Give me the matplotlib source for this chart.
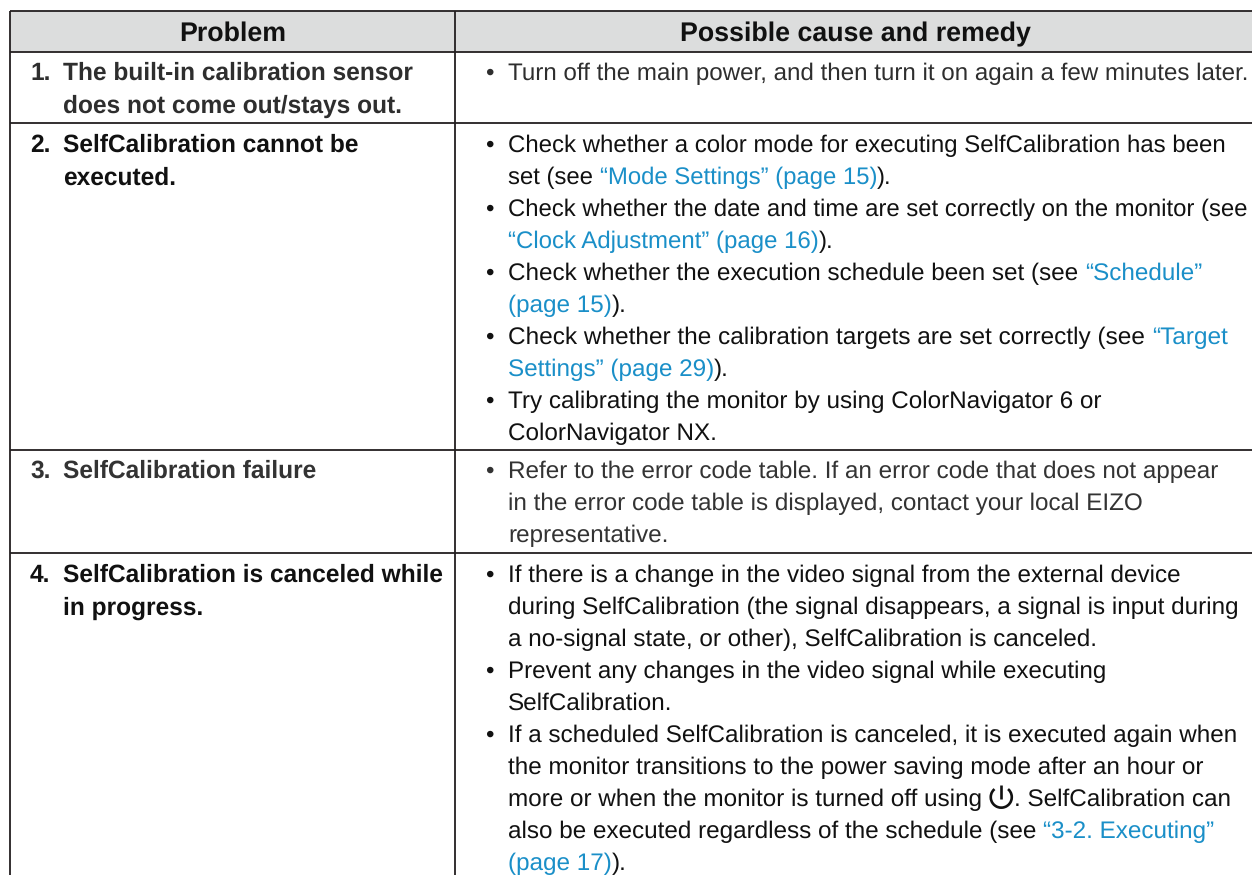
import matplotlib
matplotlib.use("Agg")
import matplotlib.pyplot as plt
from matplotlib.patches import Arc, Rectangle

W, H = 1252, 875
HEADERS = ["Problem", "Possible cause and remedy"]
PROBLEMS = [
    ["1.", "The built-in calibration sensor", "does not come out/stays out."],
    ["2.", "SelfCalibration cannot be", "executed."],
    ["3.", "SelfCalibration failure"],
    ["4.", "SelfCalibration is canceled while", "in progress."],
]
# "•" starts a bullet; "[...]" marks a link run; "@" marks the power icon.
REMEDY_1 = ["•Turn off the main power, and then turn it on again a few minutes later."]
REMEDY_2 = [
    "•Check whether a color mode for executing SelfCalibration has been",
    "set (see [“Mode Settings” (page 15)]).",
    "•Check whether the date and time are set correctly on the monitor (see",
    "[“Clock Adjustment” (page 16)]).",
    "•Check whether the execution schedule been set (see [“Schedule”]",
    "[(page 15)]).",
    "•Check whether the calibration targets are set correctly (see [“Target]",
    "[Settings” (page 29)]).",
    "•Try calibrating the monitor by using ColorNavigator 6 or",
    "ColorNavigator NX.",
]
REMEDY_3 = [
    "•Refer to the error code table. If an error code that does not appear",
    "in the error code table is displayed, contact your local EIZO",
    "representative.",
]
REMEDY_4 = [
    "•If there is a change in the video signal from the external device",
    "during SelfCalibration (the signal disappears, a signal is input during",
    "a no-signal state, or other), SelfCalibration is canceled.",
    "•Prevent any changes in the video signal while executing",
    "SelfCalibration.",
    "•If a scheduled SelfCalibration is canceled, it is executed again when",
    "the monitor transitions to the power saving mode after an hour or",
    "more or when the monitor is turned off using @. SelfCalibration can",
    "also be executed regardless of the schedule (see [“3-2. Executing”]",
    "[(page 17)]).",
]
REMEDIES = [REMEDY_1, REMEDY_2, REMEDY_3, REMEDY_4]

# layout (pixels)
ROW_LINES = [10.5, 52, 123, 450, 553]
X_LEFT, X_MID = 10, 455
FIRST_BASE = [80, 152, 478, 582]
PITCH = 31.95
FS = 17.5
FS_BOLD = 17.65
FS_HEAD = 19.3
# lines set a little tighter or looser in the reference: (row, line) -> size
FS_LINE = {(0, 0): 17.35, (1, 0): 17.27, (1, 1): 17.17, (1, 2): 17.19,
           (1, 3): 17.29, (1, 6): 17.52, (3, 3): 17.4}
ROW_COLORS = ["#2e2e2e", "#111111", "#333333", "#111111"]
LINK = "#1a8fc8"
LINE = "#231f20"

plt.rcParams["font.family"] = ["Liberation Sans", "DejaVu Sans"]
plt.rcParams["text.hinting"] = "none"
fig = plt.figure(figsize=(W / 100, H / 100), dpi=100)
ax = fig.add_axes([0, 0, 1, 1])
ax.set_xlim(0, W)
ax.set_ylim(H, 0)
ax.axis("off")
ax.add_patch(Rectangle((X_LEFT, ROW_LINES[0]), W - X_LEFT, ROW_LINES[1] - ROW_LINES[0],
                       fc="#dcdddd", ec="none", zorder=0))
for y in ROW_LINES:
    ax.plot([X_LEFT, W], [y, y], color=LINE, lw=1.3, zorder=1, solid_capstyle="butt")
for x in (X_LEFT, X_MID):
    ax.plot([x, x], [ROW_LINES[0], H], color=LINE, lw=1.3, zorder=1, solid_capstyle="butt")

ax.text(232.5, 41, HEADERS[0], ha="center", va="baseline",
        fontsize=FS_HEAD, fontweight="bold", color="#111111")
ax.text(855, 41, HEADERS[1], ha="center", va="baseline",
        fontsize=FS_HEAD, fontweight="bold", color="#111111")

for base, prob, col in zip(FIRST_BASE, PROBLEMS, ROW_COLORS):
    ax.text(30, base, prob[0], fontsize=FS_BOLD, fontweight="bold", color=col, va="baseline")
    for i, s in enumerate(prob[1:]):
        ax.text(63, base + i * 33, s, fontsize=FS_BOLD, fontweight="bold", color=col, va="baseline")

fig.canvas.draw()
rend = fig.canvas.get_renderer()


def power_icon(x, base, col):
    cx, cy, r = x + 12.5, base - 8.5, 10.5
    ax.add_patch(Arc((cx, cy), 2 * r, 2 * r, theta1=-50, theta2=230, color=col, lw=1.9))
    ax.plot([cx, cx], [cy - r - 2, cy + 2], color=col, lw=1.9, solid_capstyle="butt")
    return 25


def runs(line):
    out, cur, link = [], "", False
    for ch in line:
        if ch in "[]@":
            if cur:
                out.append((cur, link))
            cur = ""
            if ch == "[":
                link = True
            elif ch == "]":
                link = False
            else:
                out.append(("@", False))
        else:
            cur += ch
    if cur:
        out.append((cur, link))
    return out


def draw_line(line, base, col, fs):
    x = 508
    if line.startswith("•"):
        ax.text(485.5, base, "•", fontsize=FS, color=col, va="baseline")
        line = line[1:]
    for s, link in runs(line):
        if s == "@":
            x += power_icon(x, base, col)
            continue
        t = ax.text(x, base, s, fontsize=fs, color=LINK if link else col, va="baseline")
        bb = t.get_window_extent(rend)
        x = bb.x0 + bb.width


for r, (base, rem, col) in enumerate(zip(FIRST_BASE, REMEDIES, ROW_COLORS)):
    for i, line in enumerate(rem):
        draw_line(line, base + i * PITCH, col, FS_LINE.get((r, i), FS))

fig.savefig("out.png", dpi=100)
